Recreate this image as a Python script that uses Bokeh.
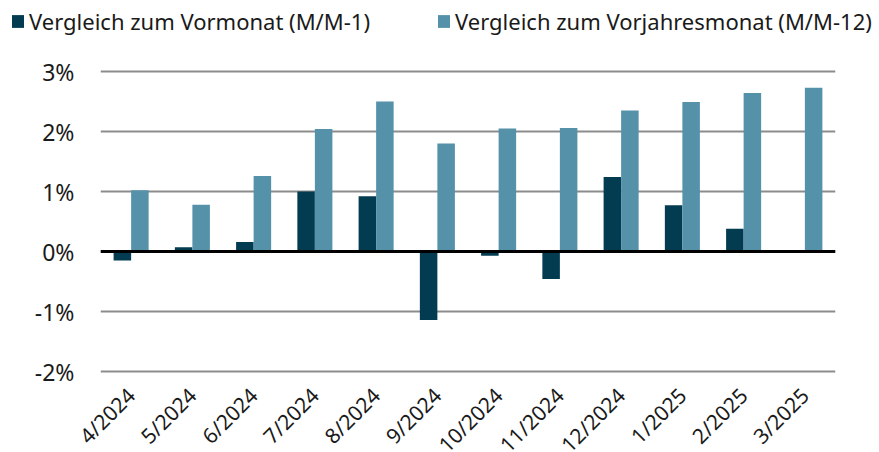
from bokeh.plotting import figure
from bokeh.layouts import column, row
from bokeh.models import ColumnDataSource, Range1d, FixedTicker, Span, Legend, LegendItem
from bokeh.transform import dodge
from bokeh.embed import file_html
from bokeh.resources import INLINE
import math

months = ["4/2024", "5/2024", "6/2024", "7/2024", "8/2024", "9/2024",
          "10/2024", "11/2024", "12/2024", "1/2025", "2/2025", "3/2025"]
mom = [-0.15, 0.07, 0.16, 1.00, 0.92, -1.14, -0.07, -0.46, 1.24, 0.77, 0.38, 0.0]
yoy = [1.02, 0.78, 1.26, 2.04, 2.50, 1.80, 2.05, 2.06, 2.35, 2.49, 2.64, 2.73]
y_ticks = [-2, -1, 0, 1, 2, 3]
y_labels = ["-2%", "-1%", "0%", "1%", "2%", "3%"]
series_names = ["Vergleich zum Vormonat (M/M-1)", "Vergleich zum Vorjahresmonat (M/M-12)"]

DARK = "#033b50"
LIGHT = "#5592aa"
FONT = "Noto Sans"
TXT = "#1a1a1a"

src = ColumnDataSource(dict(month=months, mom=mom, yoy=yoy))

# ---- legend strip (separate figure so the legend may span the full width) ----
lf = figure(width=879, height=40, x_range=Range1d(0, 1), y_range=Range1d(0, 1),
            output_backend="svg", toolbar_location=None,
            min_border_left=0, min_border_right=0, min_border_top=0, min_border_bottom=0)
lf.outline_line_color = None
lf.axis.visible = False
lf.grid.visible = False
# zero-height swatch renderers, only used as legend keys
key_src = ColumnDataSource(dict(x=[0.5], top=[0.0]))
lr1 = lf.vbar(x="x", top="top", bottom=0, width=0.01, source=key_src, fill_color=DARK, line_color=None)
lr2 = lf.vbar(x="x", top="top", bottom=0, width=0.01, source=key_src, fill_color=LIGHT, line_color=None)
legend = Legend(items=[LegendItem(label=series_names[0], renderers=[lr1]),
                       LegendItem(label=series_names[1], renderers=[lr2])],
                orientation="horizontal", location=(10, 4),
                label_text_font=FONT, label_text_font_size="22px", label_text_color=TXT,
                glyph_width=15, glyph_height=16, label_standoff=4, spacing=66,
                padding=0, margin=0, border_line_color=None, background_fill_alpha=0)
lf.add_layout(legend, "center")

# ---- main chart ----
p = figure(x_range=months, y_range=Range1d(-2.1, 3.1667),
           frame_width=735, frame_height=316, output_backend="svg", toolbar_location=None,
           min_border_left=100, min_border_right=44, min_border_top=21, min_border_bottom=75)
p.outline_line_color = None

w = 0.286
r1 = p.vbar(x=dodge("month", -w / 2, range=p.x_range), top="mom", bottom=0, width=w,
            source=src, fill_color=DARK, line_color=None)
r2 = p.vbar(x=dodge("month", w / 2, range=p.x_range), top="yoy", bottom=0, width=w,
            source=src, fill_color=LIGHT, line_color=None)

p.add_layout(Span(location=0, dimension="width", line_color="black", line_width=3))

p.xgrid.grid_line_color = None
p.ygrid.grid_line_color = "#8c8c8c"
p.ygrid.grid_line_width = 2
p.yaxis.ticker = FixedTicker(ticks=y_ticks)
p.yaxis.major_label_overrides = {t: l for t, l in zip(y_ticks, y_labels)}

for ax in (p.xaxis[0], p.yaxis[0]):
    ax.axis_line_color = None
    ax.major_tick_line_color = None
    ax.minor_tick_line_color = None
    ax.major_tick_out = 0
    ax.major_tick_in = 0
    ax.major_label_text_font = FONT
    ax.major_label_text_color = TXT
p.yaxis.major_label_text_font_size = "23px"
p.yaxis.major_label_standoff = 26
p.xaxis.major_label_text_font_size = "21px"
p.xaxis.major_label_orientation = math.pi / 4
p.xaxis.major_label_standoff = 14

layout = column(row(lf), row(p), spacing=0)
open("out.html", "w").write(file_html(layout, INLINE))
